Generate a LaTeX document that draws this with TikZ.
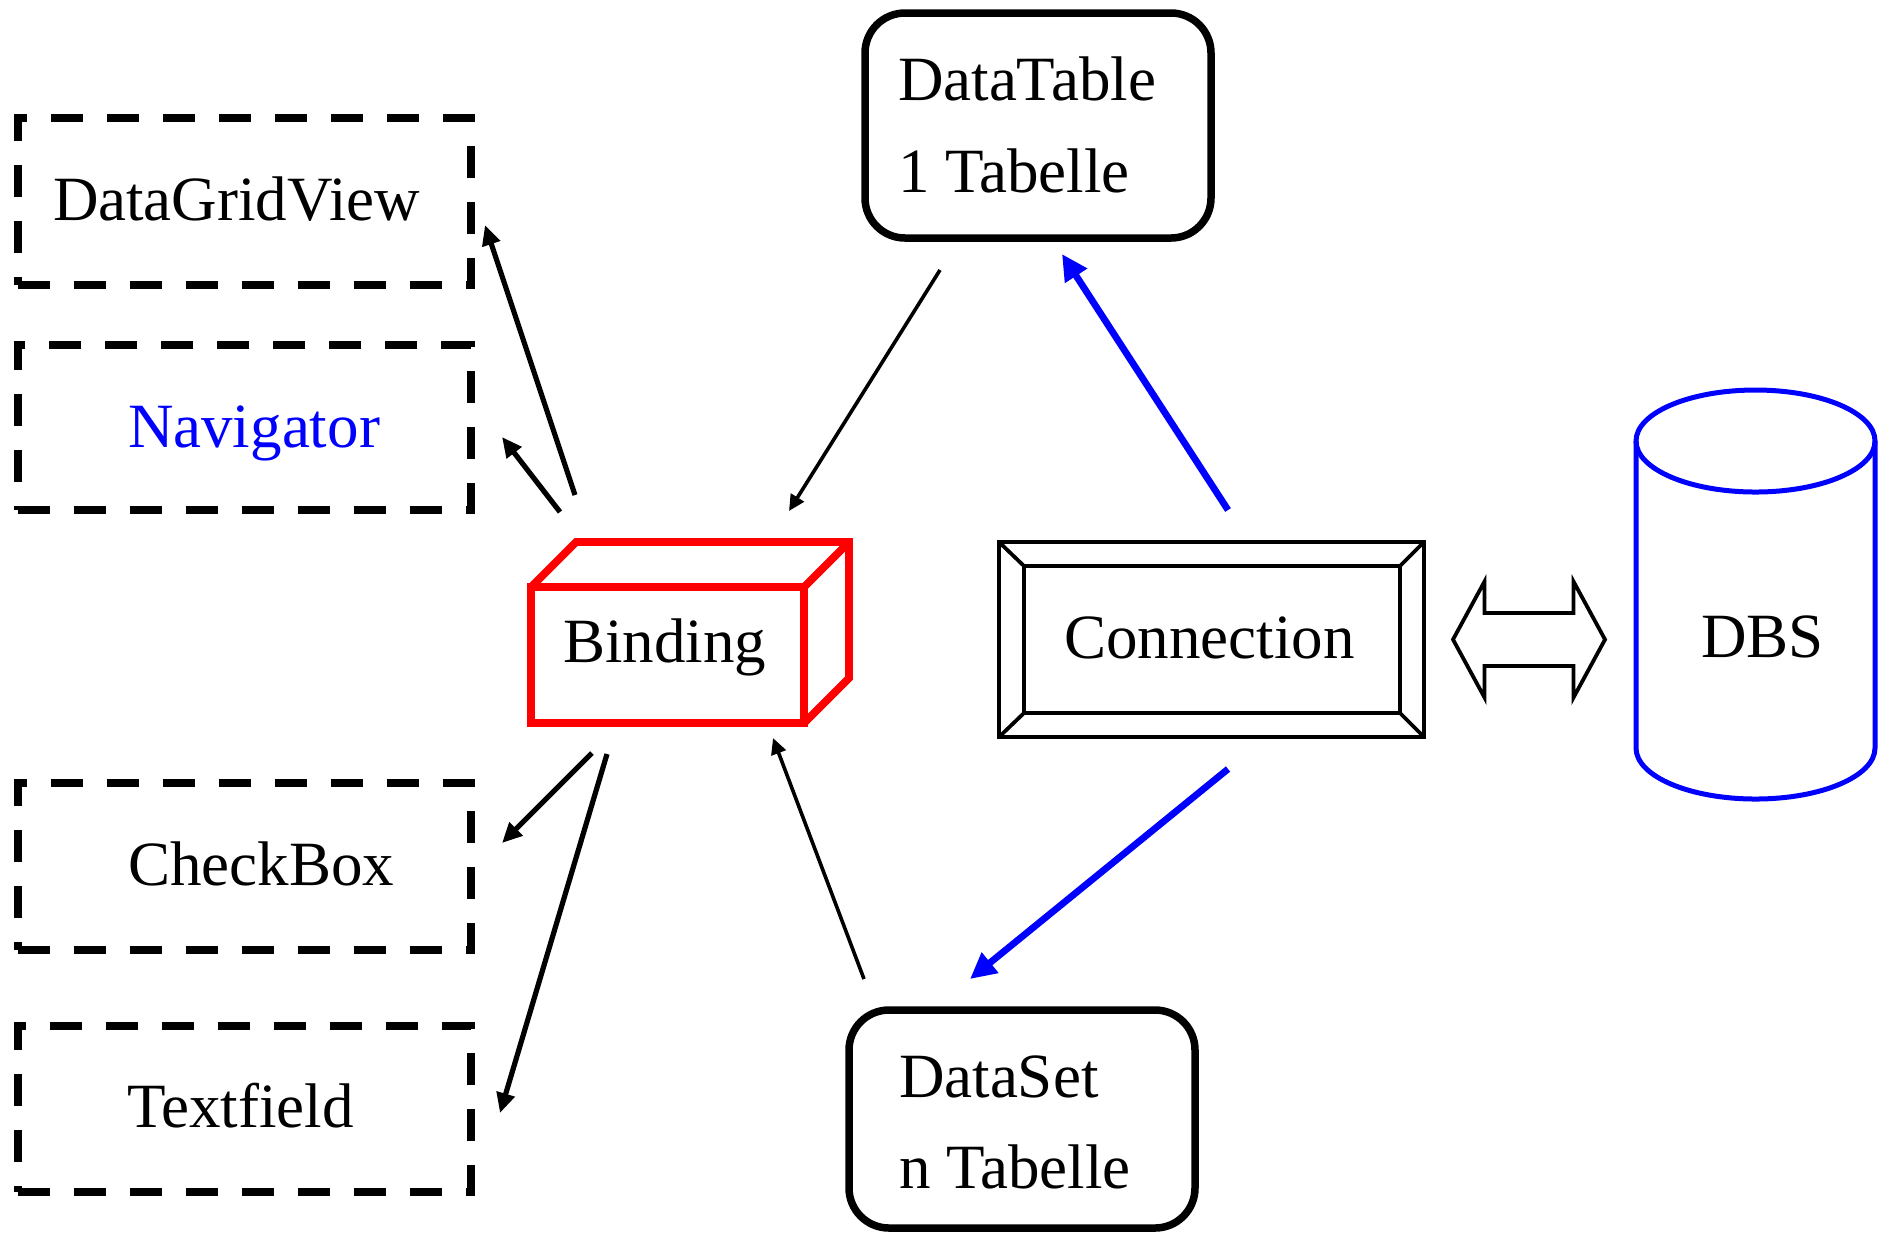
\documentclass[tikz,border=0pt]{standalone}
\usepackage{fontspec}
\setmainfont{Liberation Serif}
\usetikzlibrary{arrows.meta}
\begin{document}
\begin{tikzpicture}[x=0.1mm,y=-0.1mm,
  lbl/.style={anchor=base west, inner sep=0pt, outer sep=0pt, font=\fontsize{17.93pt}{21pt}\selectfont},
  dbox/.style={draw, line width=0.85mm, dash pattern=on 3.2mm off 2.4mm, minimum width=45.3mm, inner sep=0pt, outer sep=0pt},
  rbox/.style={draw, line width=0.75mm, rounded corners=4mm, minimum width=34.6mm, inner sep=0pt, outer sep=0pt},
  plainbox/.style={draw, line width=0.38mm, inner sep=0pt, outer sep=0pt},
  bindbox/.style={draw=red, line width=0.78mm, inner sep=0pt, outer sep=0pt, line join=miter},
  leftarrow/.style={line width=0.52mm, -{Triangle[length=2mm, width=1.8mm]}},
  midarrow/.style={line width=0.36mm, -{Triangle[length=1.6mm, width=1.5mm]}},
  bluearrow/.style={blue, line width=0.68mm, -{Triangle[length=2.6mm, width=2.5mm]}},
  dbsline/.style={blue, line width=0.5mm}
]
\fill[white] (0,0) rectangle (1878,1239);
\useasboundingbox (0,0) rectangle (1878,1239);

% dashed boxes
\node[dbox, minimum height=16.7mm] (dgv) at (244.5,201.5) {};
\node[dbox, minimum height=16.5mm] (nav) at (244.5,427.5) {};
\node[dbox, minimum height=16.7mm] (cb) at (244.5,866.5) {};
\node[dbox, minimum height=16.6mm] (tf) at (244.5,1109) {};
\node[lbl] (dgv-t) at (53,220) {DataGridView};
\node[lbl, text=blue] (nav-t) at (128,447) {Navigator};
\node[lbl] (cb-t) at (128,885) {CheckBox};
\node[lbl] (tf-t) at (127,1127) {Textfield};

% rounded boxes
\node[rbox, minimum height=22.5mm] (dt) at (1038,125.5) {};
\node[lbl] (dt-1) at (898,100) {DataTable};
\node[lbl] (dt-2) at (898,192) {1 Tabelle};
\node[rbox, minimum height=21.8mm] (ds) at (1022,1119) {};
\node[lbl] (ds-1) at (899,1097) {DataSet};
\node[lbl] (ds-2) at (899,1188) {n Tabelle};

% binding box
\node[bindbox, minimum width=27.3mm, minimum height=13.6mm] (binding) at (667.5,655) {};
\draw[red, line width=0.78mm, line join=miter]
  (binding.north west) -- ++(45,-45) -- ++(273,0) -- ++(0,136) -- (binding.south east);
\draw[red, line width=0.78mm] (binding.north east) -- ++(45,-45);
\node[lbl] (bind-t) at (563,662) {Binding};

% connection box
\node[plainbox, minimum width=42.5mm, minimum height=19.5mm] (conn) at (1211.5,639.5) {};
\node[plainbox, minimum width=37.6mm, minimum height=14.7mm] (conn-in) at (1212,639.5) {};
\draw[line width=0.38mm] (conn.north west) -- (conn-in.north west)
  (conn.north east) -- (conn-in.north east)
  (conn.south west) -- (conn-in.south west)
  (conn.south east) -- (conn-in.south east);
\node[lbl] (conn-t) at (1064,658) {Connection};

% double block arrow
\coordinate (dbl) at (1529,639.5);
\draw[line width=0.38mm, line join=miter, shift={(dbl)}]
  (-76,0) -- (-44.5,-58) -- (-44.5,-26.5) -- (44.5,-26.5) -- (44.5,-58) -- (76,0)
  -- (44.5,58) -- (44.5,26.5) -- (-44.5,26.5) -- (-44.5,58) -- cycle;

% DBS cylinder
\draw[dbsline] (1636,441) -- (1636,748)
  arc[start angle=180, end angle=360, x radius=11.95mm, y radius=5.1mm] -- (1875,441);
\draw[dbsline] (1755.5,441) ellipse [x radius=11.95mm, y radius=5.1mm];
\node[lbl] (dbs-t) at (1701,657) {DBS};

% connector end points
\coordinate (b-dgv) at (575,495);  \coordinate (dgv-in) at (485,225);
\coordinate (b-nav) at (560,512);  \coordinate (nav-in) at (502,437);
\coordinate (b-cb) at (592,753);   \coordinate (cb-in) at (502,843);
\coordinate (b-tf) at (607,754);   \coordinate (tf-in) at (500,1113);
\coordinate (dt-out) at (940,270); \coordinate (b-top) at (789,511);
\coordinate (c-top) at (1228,510); \coordinate (dt-in) at (1062,254);
\coordinate (ds-out) at (864,979); \coordinate (b-bot) at (773,738);
\coordinate (c-bot) at (1228,769); \coordinate (ds-in) at (970,979);

\draw[leftarrow] (b-dgv) -- (dgv-in);
\draw[leftarrow] (b-nav) -- (nav-in);
\draw[leftarrow] (b-cb) -- (cb-in);
\draw[leftarrow] (b-tf) -- (tf-in);
\draw[midarrow] (dt-out) -- (b-top);
\draw[midarrow] (ds-out) -- (b-bot);
\draw[bluearrow] (c-top) -- (dt-in);
\draw[bluearrow] (c-bot) -- (ds-in);
\end{tikzpicture}
\end{document}
